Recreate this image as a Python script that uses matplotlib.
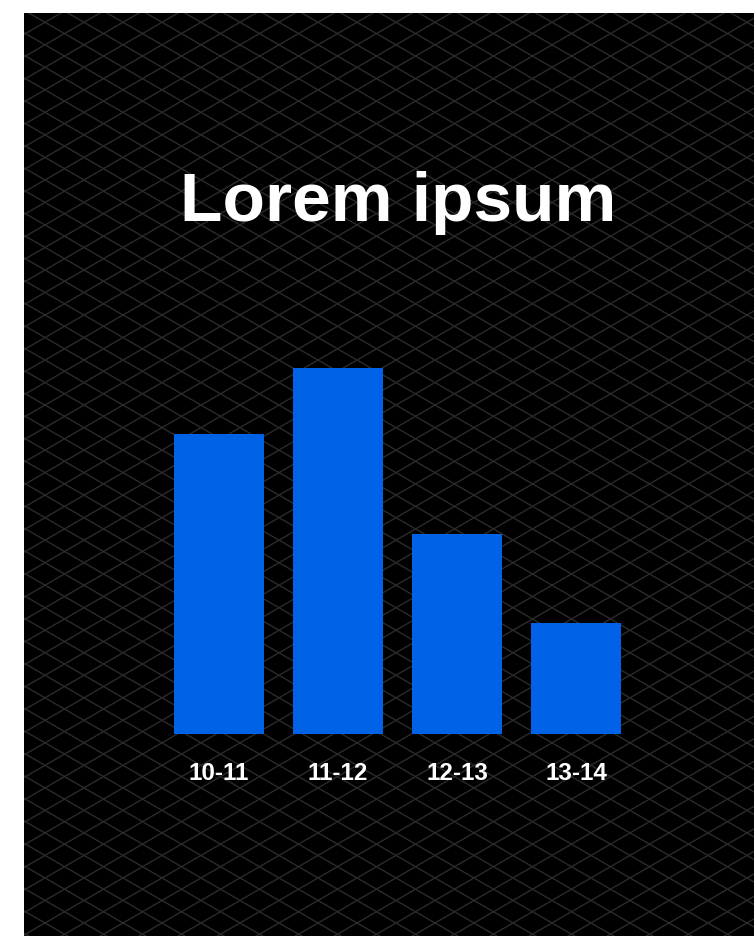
import numpy as np
import matplotlib
matplotlib.use("Agg")
import matplotlib.pyplot as plt

# Bar chart on a dark isometric-grid panel

categories = ["10-11", "11-12", "12-13", "13-14"]
values = [27, 33, 18, 10]
title = "Lorem ipsum"

W, H = 754, 937
DPI = 100
BAR_COLOR = "#0062e6"
GRID_COLOR = "#2b2b2b"

plt.rcParams["font.family"] = ["Liberation Sans", "DejaVu Sans"]

fig = plt.figure(figsize=(W / DPI, H / DPI), dpi=DPI, facecolor="white")

# black panel, starts a little in from the top-left corner
px0, py0 = 24, 13.5
bg = fig.add_axes([px0 / W, 0, 1 - px0 / W, 1 - py0 / H])
bg.set_facecolor("black")
pw, ph = W - px0, H - py0
bg.set_xlim(0, pw)
bg.set_ylim(ph, 0)
bg.axis("off")
bg.add_patch(plt.Rectangle((0, 0), pw, ph, color="black", zorder=0))

# isometric diamond grid (lines at +/-30 degrees)
slope = np.tan(np.radians(30))
step = 39 * slope
ox, oy = 45 - px0, 23.3 - py0
xs = np.array([0, pw])
for n in range(-60, 80):
    y1 = oy + slope * (xs - ox) + step * n
    y2 = oy - slope * (xs - ox) + step * n
    bg.plot(xs, y1, color=GRID_COLOR, lw=1.0, zorder=1)
    bg.plot(xs, y2, color=GRID_COLOR, lw=1.0, zorder=1)

# bars
spacing = 119
left = 219 - spacing / 2
base = H - 734.5
ymax = 36
ax_h = 365.5 * ymax / max(values)
ax = fig.add_axes([left / W, base / H, 4 * spacing / W, ax_h / H])
ax.patch.set_alpha(0)
x = np.arange(len(categories))
ax.bar(x, values, width=90 / spacing, color=BAR_COLOR, zorder=3)
ax.set_xlim(-0.5, len(categories) - 0.5)
ax.set_ylim(0, ymax)
for s in ax.spines.values():
    s.set_visible(False)
ax.set_yticks([])
ax.set_xticks(x)
ax.set_xticklabels(categories, color="white", fontsize=17.5, fontweight="bold")
ax.tick_params(axis="x", length=0, pad=20)

fig.text(398 / W, 1 - 203 / H, title, color="white", fontsize=50,
         fontweight="bold", ha="center", va="center")

fig.savefig("out.png", dpi=DPI, facecolor="white")
